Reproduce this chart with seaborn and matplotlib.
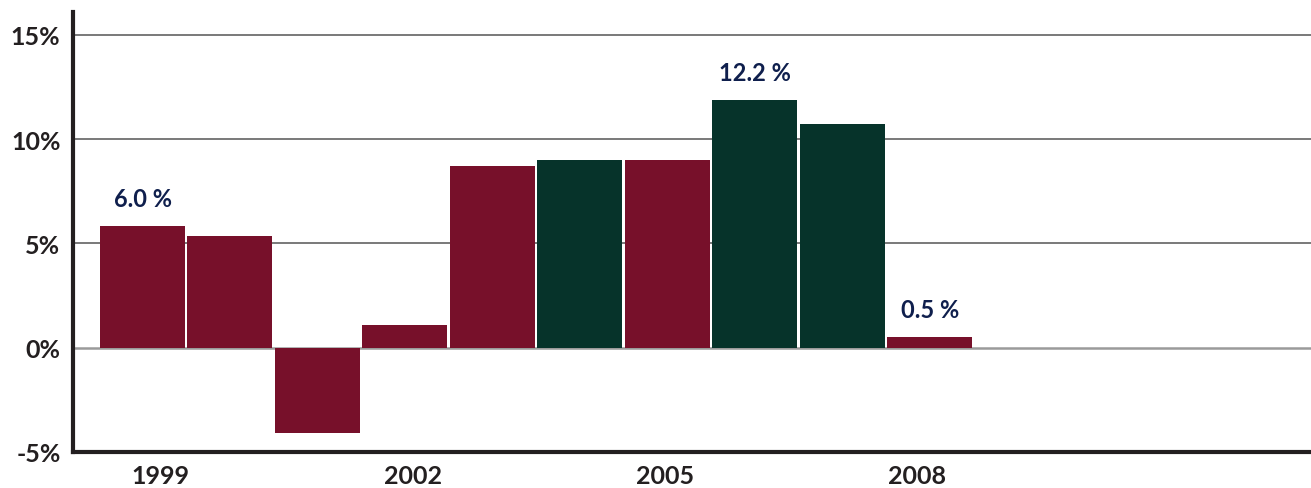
import numpy as np
import pandas as pd
import matplotlib
matplotlib.use("Agg")
import matplotlib.pyplot as plt
from matplotlib import font_manager
import seaborn as sns

years = [1999, 2000, 2001, 2002, 2003, 2004, 2005, 2006, 2007, 2008]
values = [5.85, 5.35, -4.1, 1.1, 8.7, 9.0, 9.0, 11.9, 10.75, 0.53]
groups = ["a", "a", "a", "a", "a", "b", "a", "b", "b", "a"]
annot_years = [1999, 2006, 2008]
annot_texts = ["6.0 %", "12.2 %", "0.5 %"]
tick_years = [1999, 2002, 2005, 2008]
ytick_vals = [-5, 0, 5, 10, 15]
ytick_labels = ["-5%", "0%", "5%", "10%", "15%"]

MAROON = "#77102a"
GREEN = "#06332a"
NAVY = "#0f1f4d"

sns.set_theme(style="white")

# pick a family that really has a bold face installed
preferred = ["Montserrat", "Lato", "Open Sans", "Roboto", "Noto Sans", "Inter", "DejaVu Sans"]
bold_families = set()
for f in font_manager.fontManager.ttflist:
    w = f.weight
    if isinstance(w, str):
        w = {"bold": 700, "heavy": 800, "black": 900, "semibold": 600, "demibold": 600}.get(w.lower(), 400)
    if w >= 700 and f.style == "normal":
        bold_families.add(f.name)
family = next((p for p in preferred if p in bold_families), "DejaVu Sans")
plt.rcParams["font.family"] = [family, "DejaVu Sans"]
plt.rcParams["font.weight"] = "bold"

df = pd.DataFrame({"year": [str(y) for y in years], "value": values, "group": groups})

fig = plt.figure(figsize=(13.11, 4.89), dpi=100)
ax = fig.add_axes([73 / 1311, 1 - 453 / 489, (1311 - 73) / 1311, (453 - 13) / 489])

sns.barplot(data=df, x="year", y="value", hue="group", dodge=False,
            palette={"a": MAROON, "b": GREEN}, width=0.972, ax=ax,
            legend=False, saturation=1, zorder=3)
for p in ax.patches:
    p.set_linewidth(0)

ax.set_xlim(-0.795, 13.36)
ax.set_ylim(-4.95, 16.1)

for v in [5, 10, 15]:
    ax.axhline(v, color="#555555", lw=1.1, zorder=1)
ax.axhline(0, color="#9a9a9a", lw=1.8, zorder=2)

ax.set_yticks(ytick_vals)
ax.set_yticklabels(ytick_labels, fontweight="bold")
idx = [years.index(y) for y in tick_years]
ax.set_xticks(np.array(idx) * 0.96 + 0.21)
ax.set_xticklabels([str(y) for y in tick_years], fontweight="bold")
ax.tick_params(axis="y", length=0, pad=9, labelsize=18, labelcolor="#231f20")
ax.tick_params(axis="x", length=0, pad=9, labelsize=18, labelcolor="#231f20")

ax.set_xlabel("")
ax.set_ylabel("")

for s in ["top", "right"]:
    ax.spines[s].set_visible(False)
for s in ["left", "bottom"]:
    ax.spines[s].set_color("#231f20")
    ax.spines[s].set_linewidth(3)

for y, t in zip(annot_years, annot_texts):
    i = years.index(y)
    ax.annotate(t, (i, values[i]), xytext=(0, 11), textcoords="offset points",
                ha="center", va="bottom", fontsize=17, fontweight="bold", color=NAVY)

fig.savefig("out.png", dpi=100, facecolor="white")
